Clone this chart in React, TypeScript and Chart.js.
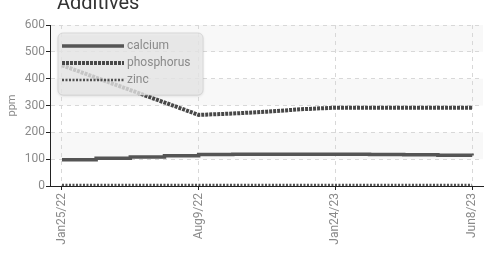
import React, { useEffect, useRef } from "react";
import { Chart, registerables } from "chart.js";

Chart.register(...registerables);

const titleText = "Additives";
const yAxisTitle = "ppm";
const tickLabels = ["Jan25/22", "Aug9/22", "Jan24/23", "Jun8/23"];
const tickEvery = 4;
const sampleIndex = [0, 1, 2, 3, 4, 5, 6, 7, 8, 9, 10, 11, 12];
const calcium = [98, 103, 108, 113, 117, 118, 118, 118, 118, 117, 116, 115, 114];
const phosphorus = [450, null, null, null, 265, 270, 277, 286, 292, 292, 292, 292, 292];
const zinc = [4, 4, 4, 4, 4, 4, 4, 4, 4, 4, 4, 4, 4];
const seriesNames = ["calcium", "phosphorus", "zinc"];

const FONT = "Roboto, 'DejaVu Sans Condensed', sans-serif";

const bandsPlugin = {
  id: "bands",
  beforeDraw(chart: any) {
    const { ctx, chartArea, scales } = chart;
    const y = scales.y;
    ctx.save();
    ctx.fillStyle = "#f8f8f8";
    for (let v = 100; v < 600; v += 200) {
      const top = y.getPixelForValue(v + 100);
      const bot = y.getPixelForValue(v);
      ctx.fillRect(chartArea.left, top, chartArea.right - chartArea.left, bot - top);
    }
    ctx.restore();
  },
};

const legendPlugin = {
  id: "boxLegend",
  afterDatasetsDraw(chart: any) {
    const { ctx } = chart;
    const x = 58, y = 33, w = 145, h = 62, r = 5;
    ctx.save();
    ctx.shadowColor = "rgba(0,0,0,0.18)";
    ctx.shadowBlur = 3;
    ctx.shadowOffsetY = 1;
    ctx.fillStyle = "rgba(236,236,236,0.78)";
    ctx.beginPath();
    ctx.roundRect(x, y, w, h, r);
    ctx.fill();
    ctx.shadowColor = "transparent";
    ctx.strokeStyle = "rgba(200,200,200,0.6)";
    ctx.lineWidth = 1;
    ctx.stroke();
    const rows = [46, 63, 80];
    chart.data.datasets.forEach((ds: any, i: number) => {
      ctx.beginPath();
      ctx.setLineDash(ds.borderDash || []);
      ctx.lineWidth = ds.borderWidth;
      ctx.strokeStyle = ds.borderColor;
      ctx.moveTo(62, rows[i]);
      ctx.lineTo(124, rows[i]);
      ctx.stroke();
      ctx.setLineDash([]);
      ctx.fillStyle = "#8a8a8a";
      ctx.font = "12px " + FONT;
      ctx.textBaseline = "middle";
      ctx.fillText(ds.label, 127, rows[i]);
    });
    ctx.restore();
  },
};

const titlePlugin = {
  id: "topTitle",
  afterDraw(chart: any) {
    const { ctx } = chart;
    ctx.save();
    ctx.fillStyle = "#333";
    ctx.font = "20px " + FONT;
    ctx.textBaseline = "alphabetic";
    ctx.fillText(titleText, 57, 9);
    ctx.restore();
  },
};

const gridOpts = {
  color: "#d8d8d8",
  tickColor: "#222",
  tickBorderDash: [],
  tickLength: 4,
};
const borderOpts = { color: "#222", width: 1, dash: [4, 4] };

export default function App() {
  const ref = useRef<HTMLCanvasElement>(null);
  useEffect(() => {
    if (!ref.current) return;
    const mk = (arr: (number | null)[]) => sampleIndex.map((xv, i) => ({ x: xv, y: arr[i] }));
    const chart = new Chart(ref.current, {
      type: "line",
      data: {
        datasets: [
          {
            label: seriesNames[0],
            data: mk(calcium),
            borderColor: "#555",
            borderWidth: 3.5,
            stepped: "before",
            pointRadius: 0,
          },
          {
            label: seriesNames[1],
            data: mk(phosphorus),
            borderColor: "#484848",
            borderWidth: 4,
            borderDash: [3, 1],
            pointRadius: 0,
            spanGaps: true,
          },
          {
            label: seriesNames[2],
            data: mk(zinc),
            borderColor: "#505050",
            borderWidth: 2.5,
            borderDash: [2, 1.5],
            pointRadius: 0,
          },
        ] as any,
      },
      options: {
        animation: false,
        responsive: false,
        layout: { padding: { left: 0, top: 25, right: 9, bottom: 0 } },
        plugins: { legend: { display: false }, title: { display: false }, tooltip: { enabled: false } },
        scales: {
          x: {
            type: "linear",
            min: -0.35,
            max: 12.32,
            afterBuildTicks: (s: any) => {
              s.ticks = tickLabels.map((_, i) => ({ value: i * tickEvery }));
            },
            afterFit: (s: any) => {
              s.height = 78;
            },
            ticks: {
              callback: (v: any) => tickLabels[Math.round(Number(v) / tickEvery)] ?? "",
              minRotation: 90,
              maxRotation: 90,
              padding: 3,
              color: "#8a8a8a",
              font: { family: FONT, size: 12 },
              autoSkip: false,
            },
            grid: gridOpts as any,
            border: borderOpts as any,
          },
          y: {
            min: 0,
            max: 600,
            afterBuildTicks: (s: any) => {
              const t = [];
              for (let v = 0; v <= 600; v += 100) t.push({ value: v });
              s.ticks = t;
            },
            afterFit: (s: any) => {
              s.width = 50;
            },
            ticks: {
              padding: 1,
              color: "#8a8a8a",
              font: { family: FONT, size: 12 },
            },
            title: {
              display: true,
              text: yAxisTitle,
              color: "#8a8a8a",
              font: { family: FONT, size: 11 },
              padding: { top: 6, bottom: 0 },
            },
            grid: gridOpts as any,
            border: borderOpts as any,
          },
        },
      } as any,
      plugins: [bandsPlugin, legendPlugin, titlePlugin],
    });
    return () => chart.destroy();
  }, []);
  return (
    <div style={{ position: "fixed", left: 0, top: 0, width: 492, height: 264, background: "#fff" }}>
      <canvas ref={ref} width={492} height={264} style={{ display: "block" }} />
    </div>
  );
}
